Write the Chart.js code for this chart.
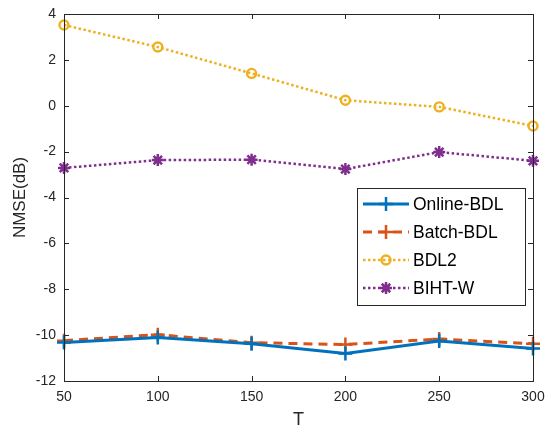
<!DOCTYPE html>
<html>
<head>
<meta charset="utf-8">
<script src="https://cdn.jsdelivr.net/npm/chart.js@4.4.1/dist/chart.umd.min.js"></script>
<style>
  html, body { margin: 0; padding: 0; background: #fff; }
  #wrap { width: 547px; height: 429px; }
</style>
</head>
<body>
<div id="wrap"><canvas id="chart" width="547" height="429"></canvas></div>
<script>
// 데이터
const tValues = [50, 100, 150, 200, 250, 300];
const onlineBDL = [-10.32, -10.1, -10.38, -10.8, -10.26, -10.58];
const batchBDL = [-10.24, -9.98, -10.33, -10.41, -10.17, -10.38];
const bdl2 = [3.52, 2.56, 1.41, 0.24, -0.05, -0.88];
const bihtW = [-2.71, -2.37, -2.35, -2.76, -2.02, -2.4];
const xTicks = [50, 100, 150, 200, 250, 300];
const yTicks = [-12, -10, -8, -6, -4, -2, 0, 2, 4];

const FONT = 'Liberation Sans, Arial, Helvetica, sans-serif';
const AXIS_COLOR = '#262626';

function toPoints(ys) {
    return ys.map((y, i) => ({ x: tValues[i], y: y }));
}

// 박스, 안쪽 눈금, 범례 그리기
const frameAndLegend = {
    id: 'frameAndLegend',
    afterDraw(chart) {
        const ctx = chart.ctx;
        const a = chart.chartArea;
        const xs = chart.scales.x;
        const ys = chart.scales.y;
        const tick = 5;

        ctx.save();
        ctx.strokeStyle = AXIS_COLOR;
        ctx.lineWidth = 1;
        ctx.setLineDash([]);
        ctx.strokeRect(Math.round(a.left) + 0.5, Math.round(a.top) + 0.5,
            Math.round(a.right - a.left), Math.round(a.bottom - a.top));

        ctx.beginPath();
        xTicks.forEach(v => {
            const px = Math.round(xs.getPixelForValue(v)) + 0.5;
            ctx.moveTo(px, a.bottom); ctx.lineTo(px, a.bottom - tick);
            ctx.moveTo(px, a.top); ctx.lineTo(px, a.top + tick);
        });
        yTicks.forEach(v => {
            const py = Math.round(ys.getPixelForValue(v)) + 0.5;
            ctx.moveTo(a.left, py); ctx.lineTo(a.left + tick, py);
            ctx.moveTo(a.right, py); ctx.lineTo(a.right - tick, py);
        });
        ctx.stroke();

        // 범례
        const box = { x: 357.5, y: 188.5, w: 168, h: 117 };
        ctx.fillStyle = '#fff';
        ctx.fillRect(box.x, box.y, box.w, box.h);
        ctx.strokeStyle = AXIS_COLOR;
        ctx.lineWidth = 1;
        ctx.strokeRect(box.x, box.y, box.w, box.h);

        const rows = [204, 232, 260, 288];
        ctx.font = '17.5px ' + FONT;
        ctx.textBaseline = 'middle';
        chart.data.datasets.forEach((ds, i) => {
            const y = rows[i];
            ctx.strokeStyle = ds.borderColor;
            ctx.lineWidth = ds.borderWidth;
            ctx.setLineDash(ds.borderDash || []);
            ctx.beginPath();
            ctx.moveTo(363, y);
            ctx.lineTo(409, y);
            ctx.stroke();
            ctx.setLineDash([]);
            ctx.strokeStyle = ds.pointBorderColor;
            ctx.fillStyle = ds.pointBackgroundColor;
            ctx.lineWidth = ds.pointBorderWidth;
            Chart.helpers.drawPoint(ctx, {
                pointStyle: ds.pointStyle,
                radius: ds.pointRadius,
                rotation: 0,
                borderWidth: ds.pointBorderWidth
            }, 386, y);
            ctx.fillStyle = '#000';
            ctx.fillText(ds.label, 413, y + 1);
        });
        ctx.restore();
    }
};

const ctx = document.getElementById('chart').getContext('2d');
new Chart(ctx, {
    type: 'line',
    data: {
        datasets: [{
            label: 'Online-BDL',
            data: toPoints(onlineBDL),
            borderColor: '#0072BD',
            borderWidth: 3,
            pointStyle: 'cross',
            pointRadius: 7,
            pointBorderColor: '#0072BD',
            pointBackgroundColor: '#0072BD',
            pointBorderWidth: 2.5
        }, {
            label: 'Batch-BDL',
            data: toPoints(batchBDL),
            borderColor: '#D95319',
            borderWidth: 3,
            borderDash: [9, 6],
            pointStyle: 'cross',
            pointRadius: 7,
            pointBorderColor: '#D95319',
            pointBackgroundColor: '#D95319',
            pointBorderWidth: 2.5
        }, {
            label: 'BDL2',
            data: toPoints(bdl2),
            borderColor: '#EDB120',
            borderWidth: 2.5,
            borderDash: [2.5, 2.5],
            pointStyle: 'circle',
            pointRadius: 4.5,
            pointBorderColor: '#EDB120',
            pointBackgroundColor: 'rgba(255,255,255,0)',
            pointBorderWidth: 2.4
        }, {
            label: 'BIHT-W',
            data: toPoints(bihtW),
            borderColor: '#7E2F8E',
            borderWidth: 2.5,
            borderDash: [2.5, 2.5],
            pointStyle: 'star',
            pointRadius: 6,
            pointBorderColor: '#7E2F8E',
            pointBackgroundColor: '#7E2F8E',
            pointBorderWidth: 2.5
        }]
    },
    options: {
        responsive: false,
        animation: false,
        clip: false,
        layout: { padding: { left: 6, right: 14, top: 14, bottom: 0 } },
        plugins: {
            legend: { display: false },
            tooltip: { enabled: false }
        },
        elements: { line: { tension: 0 } },
        scales: {
            x: {
                type: 'linear',
                min: 50,
                max: 300,
                afterFit: s => { s.height = 48; s.paddingLeft = 0; s.paddingRight = 0; },
                afterBuildTicks: s => { s.ticks = xTicks.map(v => ({ value: v })); },
                grid: { display: false, drawTicks: false },
                border: { display: false },
                ticks: { color: AXIS_COLOR, font: { family: FONT, size: 14 }, padding: 8, maxRotation: 0 },
                title: {
                    display: true, text: 'T', color: AXIS_COLOR,
                    font: { family: FONT, size: 18, lineHeight: 1 },
                    padding: { top: 0, bottom: 0 }
                }
            },
            y: {
                min: -12,
                max: 4,
                afterFit: s => { s.width = 58; s.paddingTop = 0; s.paddingBottom = 0; },
                afterBuildTicks: s => { s.ticks = yTicks.map(v => ({ value: v })); },
                grid: { display: false, drawTicks: false },
                border: { display: false },
                ticks: { color: AXIS_COLOR, font: { family: FONT, size: 14 }, padding: 8 },
                title: {
                    display: true, text: 'NMSE(dB)', color: AXIS_COLOR,
                    font: { family: FONT, size: 17, lineHeight: 1.2 },
                    padding: { top: 4, bottom: 0 }
                }
            }
        }
    },
    plugins: [frameAndLegend]
});
</script>
</body>
</html>
